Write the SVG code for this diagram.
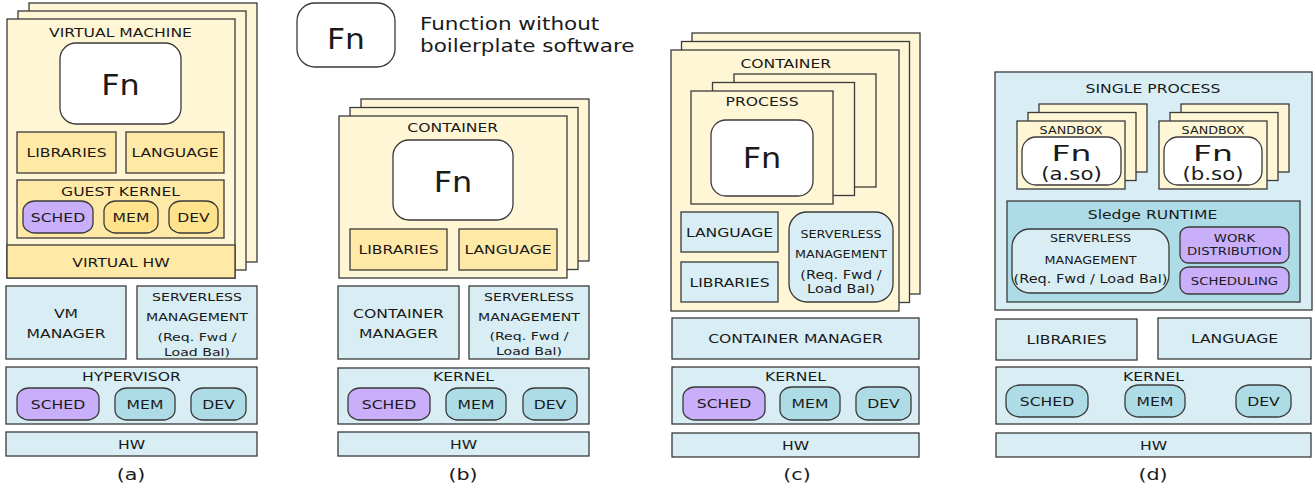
<svg xmlns="http://www.w3.org/2000/svg" width="1315" height="486" viewBox="0 0 1315 486">
<style>
rect{stroke:#3a3a3a;stroke-width:1.3}
.cream{fill:#fff6d5}
.yel{fill:#ffe9a6}
.ypill{fill:#ffe38c}
.pur{fill:#c9aefa}
.lb{fill:#d8eef4}
.db{fill:#aedce6}
.wh{fill:#ffffff}
text{font-family:"DejaVu Sans","Liberation Sans",sans-serif;fill:#1a1a1a;text-anchor:middle}
.f12{font-size:12.5px}
.f11{font-size:11.3px}
.f10{font-size:10.2px}
.f10b{font-size:10.6px}
.f11m{font-size:11.6px}
.fn{font-size:29px}
.fns{font-size:22px}
.so{font-size:17px}
.cap{font-size:16.5px}
.leg{font-size:17.5px;text-anchor:start}
</style>

<g id="legend">
<rect class="wh" x="297" y="3" width="98" height="64" rx="18" ry="18"/>
<text class="fn" transform="translate(346,48.5) scale(1.08,1)">Fn</text>
<text class="leg" transform="translate(420,30) scale(1.23,1)">Function without</text>
<text class="leg" transform="translate(420,52) scale(1.23,1)">boilerplate software</text>
</g>

<!-- Panel (a) -->
<g id="a-vm">
<rect class="cream" x="29" y="3" width="228" height="259"/>
<rect class="cream" x="18" y="11" width="228" height="259"/>
<rect class="cream" x="7" y="19" width="228" height="259"/>
<rect class="yel" x="7" y="245" width="228" height="33"/>
<text class="f12" transform="translate(120.5,36.6) scale(1.25,1)">VIRTUAL MACHINE</text>
<text class="f12" transform="translate(121,266.6) scale(1.25,1)">VIRTUAL HW</text>
</g>
<g id="a-fn">
<rect class="wh" x="60" y="43" width="121" height="81" rx="16" ry="16"/>
<text class="fn" transform="translate(120.5,94.5) scale(1.1,1)">Fn</text>
</g>
<g id="a-libraries">
<rect class="yel" x="17" y="132" width="99" height="41"/>
<text class="f12" transform="translate(66.5,157) scale(1.25,1)">LIBRARIES</text>
</g>
<g id="a-language">
<rect class="yel" x="126" y="132" width="98" height="41"/>
<text class="f12" transform="translate(175,157) scale(1.25,1)">LANGUAGE</text>
</g>
<g id="a-guest-kernel">
<rect class="yel" x="17" y="180" width="207" height="58"/>
<text class="f12" transform="translate(120.5,195.6) scale(1.25,1)">GUEST KERNEL</text>
<rect class="pur" x="23" y="201" width="70" height="32" rx="12" ry="10"/>
<text class="f12" transform="translate(58,221.6) scale(1.25,1)">SCHED</text>
<rect class="ypill" x="104" y="201" width="54" height="32" rx="12" ry="10"/>
<text class="f12" transform="translate(131,221.6) scale(1.25,1)">MEM</text>
<rect class="ypill" x="169" y="201" width="49" height="32" rx="12" ry="10"/>
<text class="f12" transform="translate(193.5,221.6) scale(1.25,1)">DEV</text>
</g>
<g id="a-vm-manager">
<rect class="lb" x="6" y="286" width="120" height="73"/>
<text class="f12" transform="translate(66,317.6) scale(1.25,1)">VM</text>
<text class="f12" transform="translate(66,337.6) scale(1.25,1)">MANAGER</text>
</g>
<g id="a-serverless">
<rect class="lb" x="137" y="286" width="120" height="73"/>
<text class="f11" transform="translate(197,300.8) scale(1.25,1)">SERVERLESS</text>
<text class="f11" transform="translate(197,320.8) scale(1.25,1)">MANAGEMENT</text>
<text class="f11" transform="translate(197,340.8) scale(1.25,1)">(Req. Fwd /</text>
<text class="f11" transform="translate(197,355.8) scale(1.25,1)">Load Bal)</text>
</g>
<g id="a-hypervisor">
<rect class="lb" x="6" y="367" width="251" height="57"/>
<text class="f12" transform="translate(131.5,381.3) scale(1.25,1)">HYPERVISOR</text>
<rect class="pur" x="17" y="388" width="82" height="32" rx="12" ry="10"/>
<text class="f12" transform="translate(58,408.6) scale(1.25,1)">SCHED</text>
<rect class="db" x="115" y="388" width="60" height="32" rx="12" ry="10"/>
<text class="f12" transform="translate(145,408.6) scale(1.25,1)">MEM</text>
<rect class="db" x="191" y="388" width="55" height="32" rx="12" ry="10"/>
<text class="f12" transform="translate(218.5,408.6) scale(1.25,1)">DEV</text>
</g>
<g id="a-hw">
<rect class="lb" x="6" y="432" width="251" height="24"/>
<text class="f12" transform="translate(131.5,448.6) scale(1.25,1)">HW</text>
</g>
<text class="cap" transform="translate(131,480) scale(1.25,1)">(a)</text>

<!-- Panel (b) -->
<g id="b-container">
<rect class="cream" x="361" y="99" width="228" height="162"/>
<rect class="cream" x="350" y="107.5" width="228" height="162"/>
<rect class="cream" x="339" y="116" width="228" height="162"/>
<text class="f12" transform="translate(452.7,131.6) scale(1.25,1)">CONTAINER</text>
</g>
<g id="b-fn">
<rect class="wh" x="393" y="140" width="120" height="80" rx="16" ry="16"/>
<text class="fn" transform="translate(453,191.5) scale(1.1,1)">Fn</text>
</g>
<g id="b-libraries">
<rect class="yel" x="350" y="229" width="97" height="41"/>
<text class="f12" transform="translate(398.5,254) scale(1.25,1)">LIBRARIES</text>
</g>
<g id="b-language">
<rect class="yel" x="459" y="229" width="98" height="41"/>
<text class="f12" transform="translate(508,254) scale(1.25,1)">LANGUAGE</text>
</g>
<g id="b-container-manager">
<rect class="lb" x="338" y="286" width="121" height="73"/>
<text class="f12" transform="translate(398.5,317.6) scale(1.25,1)">CONTAINER</text>
<text class="f12" transform="translate(398.5,337.6) scale(1.25,1)">MANAGER</text>
</g>
<g id="b-serverless">
<rect class="lb" x="469" y="286" width="120" height="73"/>
<text class="f11" transform="translate(529,300.6) scale(1.25,1)">SERVERLESS</text>
<text class="f11" transform="translate(529,320.8) scale(1.25,1)">MANAGEMENT</text>
<text class="f11" transform="translate(529,340.4) scale(1.25,1)">(Req. Fwd /</text>
<text class="f11" transform="translate(529,355.4) scale(1.25,1)">Load Bal)</text>
</g>
<g id="b-kernel">
<rect class="lb" x="338" y="368" width="251" height="56"/>
<text class="f12" transform="translate(463.5,381.3) scale(1.25,1)">KERNEL</text>
<rect class="pur" x="348" y="388" width="82" height="32" rx="12" ry="10"/>
<text class="f12" transform="translate(389,408.6) scale(1.25,1)">SCHED</text>
<rect class="db" x="446" y="388" width="60" height="32" rx="12" ry="10"/>
<text class="f12" transform="translate(476,408.6) scale(1.25,1)">MEM</text>
<rect class="db" x="523" y="388" width="54" height="32" rx="12" ry="10"/>
<text class="f12" transform="translate(550,408.6) scale(1.25,1)">DEV</text>
</g>
<g id="b-hw">
<rect class="lb" x="338" y="432" width="251" height="24"/>
<text class="f12" transform="translate(463.5,448.6) scale(1.25,1)">HW</text>
</g>
<text class="cap" transform="translate(463,480) scale(1.25,1)">(b)</text>

<!-- Panel (c) -->
<g id="c-container">
<rect class="cream" x="692" y="33" width="228" height="261"/>
<rect class="cream" x="681.5" y="41.5" width="228" height="261"/>
<rect class="cream" x="671" y="50" width="228" height="261"/>
<text class="f12" transform="translate(785.8,67.6) scale(1.25,1)">CONTAINER</text>
</g>
<g id="c-process">
<rect class="cream" x="734" y="74" width="142" height="113"/>
<rect class="cream" x="712.5" y="82.5" width="142" height="113"/>
<rect class="cream" x="691" y="91" width="142" height="113"/>
<text class="f12" transform="translate(762,105.6) scale(1.25,1)">PROCESS</text>
</g>
<g id="c-fn">
<rect class="wh" x="711" y="120" width="102" height="76" rx="15" ry="15"/>
<text class="fn" transform="translate(762,168) scale(1.1,1)">Fn</text>
</g>
<g id="c-language">
<rect class="lb" x="681" y="212" width="97" height="40"/>
<text class="f12" transform="translate(729.5,236.6) scale(1.25,1)">LANGUAGE</text>
</g>
<g id="c-libraries">
<rect class="lb" x="681" y="262" width="97" height="40"/>
<text class="f12" transform="translate(729.5,286.6) scale(1.25,1)">LIBRARIES</text>
</g>
<g id="c-serverless">
<rect class="lb" x="789" y="212" width="104" height="90" rx="18" ry="18"/>
<text class="f10" transform="translate(841,237.7) scale(1.25,1)">SERVERLESS</text>
<text class="f10" transform="translate(841,257.7) scale(1.25,1)">MANAGEMENT</text>
<text class="f11m" transform="translate(841,279) scale(1.25,1)">(Req. Fwd /</text>
<text class="f11m" transform="translate(841,292.5) scale(1.25,1)">Load Bal)</text>
</g>
<g id="c-container-manager">
<rect class="lb" x="672" y="318" width="247" height="41"/>
<text class="f12" transform="translate(795.5,343) scale(1.25,1)">CONTAINER MANAGER</text>
</g>
<g id="c-kernel">
<rect class="lb" x="672" y="367" width="247" height="57"/>
<text class="f12" transform="translate(795.5,381.3) scale(1.25,1)">KERNEL</text>
<rect class="pur" x="683" y="387" width="82" height="33" rx="12" ry="10"/>
<text class="f12" transform="translate(724,408) scale(1.25,1)">SCHED</text>
<rect class="db" x="780" y="387" width="60" height="33" rx="12" ry="10"/>
<text class="f12" transform="translate(810,408) scale(1.25,1)">MEM</text>
<rect class="db" x="856" y="387" width="55" height="33" rx="12" ry="10"/>
<text class="f12" transform="translate(883.5,408) scale(1.25,1)">DEV</text>
</g>
<g id="c-hw">
<rect class="lb" x="672" y="433" width="247" height="24"/>
<text class="f12" transform="translate(795.5,449.6) scale(1.25,1)">HW</text>
</g>
<text class="cap" transform="translate(797,480) scale(1.25,1)">(c)</text>

<!-- Panel (d) -->
<g id="d-single-process">
<rect class="lb" x="995" y="72" width="317" height="238"/>
<text class="f12" transform="translate(1153,92.6) scale(1.25,1)">SINGLE PROCESS</text>
</g>
<g id="d-sandbox-a">
<rect class="cream" x="1039" y="104" width="108" height="68"/>
<rect class="cream" x="1028" y="112.5" width="108" height="68"/>
<rect class="cream" x="1017" y="121" width="108" height="68"/>
<text class="f10" transform="translate(1071,133.7) scale(1.25,1)">SANDBOX</text>
<rect class="wh" x="1022" y="137" width="99" height="48" rx="14" ry="14"/>
<text class="fns" transform="translate(1071.5,161) scale(1.5,1)">Fn</text>
<text class="so" transform="translate(1071.5,180) scale(1.25,1)">(a.so)</text>
</g>
<g id="d-sandbox-b">
<rect class="cream" x="1181" y="104" width="108" height="68"/>
<rect class="cream" x="1170" y="112.5" width="108" height="68"/>
<rect class="cream" x="1159" y="121" width="108" height="68"/>
<text class="f10" transform="translate(1213,133.7) scale(1.25,1)">SANDBOX</text>
<rect class="wh" x="1164" y="137" width="98" height="48" rx="14" ry="14"/>
<text class="fns" transform="translate(1213,161) scale(1.5,1)">Fn</text>
<text class="so" transform="translate(1213,180) scale(1.25,1)">(b.so)</text>
</g>
<g id="d-runtime">
<rect class="db" x="1007" y="201" width="293" height="101"/>
<text class="f12" transform="translate(1152.5,218.6) scale(1.25,1)">Sledge RUNTIME</text>
</g>
<g id="d-serverless">
<rect class="lb" x="1012" y="229" width="157" height="64" rx="18" ry="18"/>
<text class="f10" transform="translate(1090.5,241.7) scale(1.25,1)">SERVERLESS</text>
<text class="f10" transform="translate(1090.5,263.7) scale(1.25,1)">MANAGEMENT</text>
<text class="f11m" transform="translate(1090.5,282.5) scale(1.25,1)">(Req. Fwd / Load Bal)</text>
</g>
<g id="d-work-distribution">
<rect class="pur" x="1180" y="227" width="109" height="36" rx="9" ry="8"/>
<text class="f10b" transform="translate(1234.5,242) scale(1.25,1)">WORK</text>
<text class="f10b" transform="translate(1234.5,255) scale(1.25,1)">DISTRIBUTION</text>
</g>
<g id="d-scheduling">
<rect class="pur" x="1180" y="267" width="109" height="27" rx="9" ry="8"/>
<text class="f10b" transform="translate(1234.5,284.5) scale(1.25,1)">SCHEDULING</text>
</g>
<g id="d-libraries">
<rect class="lb" x="996" y="319" width="141" height="41"/>
<text class="f12" transform="translate(1066.5,344.4) scale(1.25,1)">LIBRARIES</text>
</g>
<g id="d-language">
<rect class="lb" x="1158" y="318" width="153" height="41"/>
<text class="f12" transform="translate(1234.5,343) scale(1.25,1)">LANGUAGE</text>
</g>
<g id="d-kernel">
<rect class="lb" x="996" y="367" width="315" height="57"/>
<text class="f12" transform="translate(1153.5,381.3) scale(1.25,1)">KERNEL</text>
<rect class="db" x="1006" y="385" width="82" height="32" rx="14" ry="12"/>
<text class="f12" transform="translate(1047,405.6) scale(1.25,1)">SCHED</text>
<rect class="db" x="1125" y="385" width="60" height="32" rx="14" ry="12"/>
<text class="f12" transform="translate(1155,405.6) scale(1.25,1)">MEM</text>
<rect class="db" x="1236" y="385" width="55" height="32" rx="14" ry="12"/>
<text class="f12" transform="translate(1263.5,405.6) scale(1.25,1)">DEV</text>
</g>
<g id="d-hw">
<rect class="lb" x="996" y="433" width="315" height="24"/>
<text class="f12" transform="translate(1153.5,449.6) scale(1.25,1)">HW</text>
</g>
<text class="cap" transform="translate(1153,480) scale(1.25,1)">(d)</text>

<g id="connectors"></g>
</svg>
